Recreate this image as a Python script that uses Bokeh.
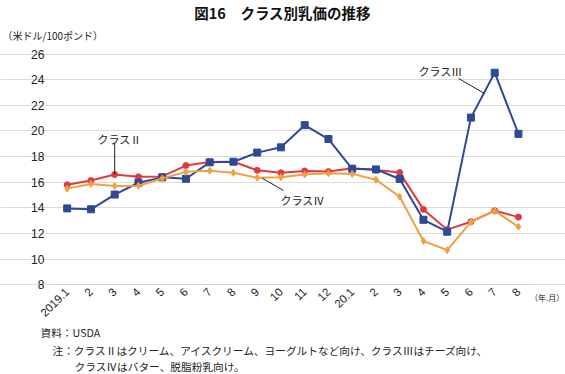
import math
from bokeh.plotting import figure
from bokeh.models import FixedTicker, Label, ColumnDataSource
from bokeh.embed import file_html
from bokeh.resources import INLINE

months = ["2019.1", "2", "3", "4", "5", "6", "7", "8", "9", "10", "11", "12",
          "20.1", "2", "3", "4", "5", "6", "7", "8"]
class2 = [15.80, 16.13, 16.60, 16.42, 16.45, 17.30, 17.58, 17.60, 16.93, 16.73,
          16.88, 16.83, 17.09, 16.95, 16.75, 13.88, 12.30, 12.92, 13.78, 13.28]
class3 = [13.96, 13.89, 15.04, 15.96, 16.38, 16.27, 17.55, 17.60, 18.31, 18.72,
          20.45, 19.37, 17.05, 17.00, 16.25, 13.07, 12.14, 21.04, 24.54, 19.77]
class4 = [15.50, 15.86, 15.71, 15.72, 16.29, 16.81, 16.90, 16.74, 16.35, 16.39,
          16.60, 16.70, 16.65, 16.20, 14.87, 11.42, 10.70, 12.90, 13.76, 12.53]
y_ticks = [8, 10, 12, 14, 16, 18, 20, 22, 24, 26]

JP = "Noto Sans CJK JP"
NUM = "Liberation Sans"

x = list(range(len(months)))
src = ColumnDataSource(dict(x=x, c2=class2, c3=class3, c4=class4))

X_LO, X_HI = -0.62, 19.58   # extent of the plotting grid
Y_LO, Y_HI = y_ticks[0], y_ticks[-1]

p = figure(width=565, height=374, output_backend="svg", toolbar_location=None,
           x_range=(-2.808, 20.981), y_range=(1.004, 30.173),
           min_border=0, min_border_left=0, min_border_right=0,
           min_border_top=0, min_border_bottom=0)
p.outline_line_color = None
p.background_fill_color = "white"

# axes drawn at fixed positions inside the canvas
p.yaxis.fixed_location = X_LO
p.yaxis.bounds = (Y_LO, Y_HI)
p.yaxis.ticker = FixedTicker(ticks=y_ticks)
p.yaxis.axis_line_color = None
p.yaxis.major_tick_line_color = None
p.yaxis.minor_tick_line_color = None
p.yaxis.major_tick_out = 0
p.yaxis.major_tick_in = 0
p.yaxis.major_label_standoff = 8
p.yaxis.major_label_text_font = NUM
p.yaxis.major_label_text_font_size = "12px"
p.yaxis.major_label_text_color = "#222222"

p.xaxis.fixed_location = Y_LO
p.xaxis.bounds = (X_LO, X_HI)
p.xaxis.ticker = FixedTicker(ticks=x)
p.xaxis.major_label_overrides = {i: m for i, m in enumerate(months)}
p.xaxis.major_label_orientation = math.pi / 4
p.xaxis.axis_line_color = "#D0D0D0"
p.xaxis.major_tick_line_color = None
p.xaxis.minor_tick_line_color = None
p.xaxis.major_tick_out = 0
p.xaxis.major_tick_in = 0
p.xaxis.major_label_standoff = 5
p.xaxis.major_label_text_font = NUM
p.xaxis.major_label_text_font_size = "11.5px"
p.xaxis.major_label_text_color = "#222222"

p.xgrid.grid_line_color = None
p.ygrid.grid_line_color = "#DCDCDC"
p.ygrid.ticker = FixedTicker(ticks=y_ticks)
p.ygrid.bounds = (X_LO, X_HI)

RED = "#E0393E"
BLUE = "#2F4A94"
ORANGE = "#F0A040"

p.line("x", "c2", source=src, line_color=RED, line_width=2)
p.scatter("x", "c2", source=src, marker="circle", size=6, fill_color=RED, line_color=RED)
p.line("x", "c3", source=src, line_color=BLUE, line_width=2)
p.scatter("x", "c3", source=src, marker="square", size=7, fill_color=BLUE, line_color=BLUE)
p.line("x", "c4", source=src, line_color=ORANGE, line_width=2)
p.scatter("x", "c4", source=src, marker="diamond", size=7, fill_color=ORANGE, line_color=ORANGE)

# leader lines for the series labels
p.segment(x0=[2, 16.48, 8.21], y0=[class2[2], 24.09, 16.31],
          x1=[2, 17.57, 9.11], y1=[19.0, 22.92, 15.35],
          line_color="#222222", line_width=1)

def lab(xv, yv, text, size, align="left", bold=False, color="#222222"):
    p.add_layout(Label(x=xv, y=yv, text=text, text_font=JP, text_font_size=size,
                       text_align=align, text_baseline="middle",
                       text_font_style="bold" if bold else "normal",
                       text_color=color))

lab(9.07, 29.24, "図16　クラス別乳価の推移", "14.5px", align="center", bold=True, color="#111111")
lab(-2.724, 27.44, "（米ドル/100ポンド）", "10px")
lab(20.93, 7.01, "（年.月）", "8px", align="right")
lab(1.276, 19.37, "クラスⅡ", "11px")
lab(14.79, 24.71, "クラスⅢ", "11px")
lab(8.98, 14.65, "クラスⅣ", "11px")
lab(-1.124, 4.28, "資料：USDA", "10.7px")
lab(-0.619, 2.876, "注：クラスⅡはクリーム、アイスクリーム、ヨーグルトなど向け、クラスⅢはチーズ向け、", "10.7px")
lab(0.307, 1.628, "クラスⅣはバター、脱脂粉乳向け。", "10.7px")

open("out.html", "w").write(file_html(p, INLINE))
